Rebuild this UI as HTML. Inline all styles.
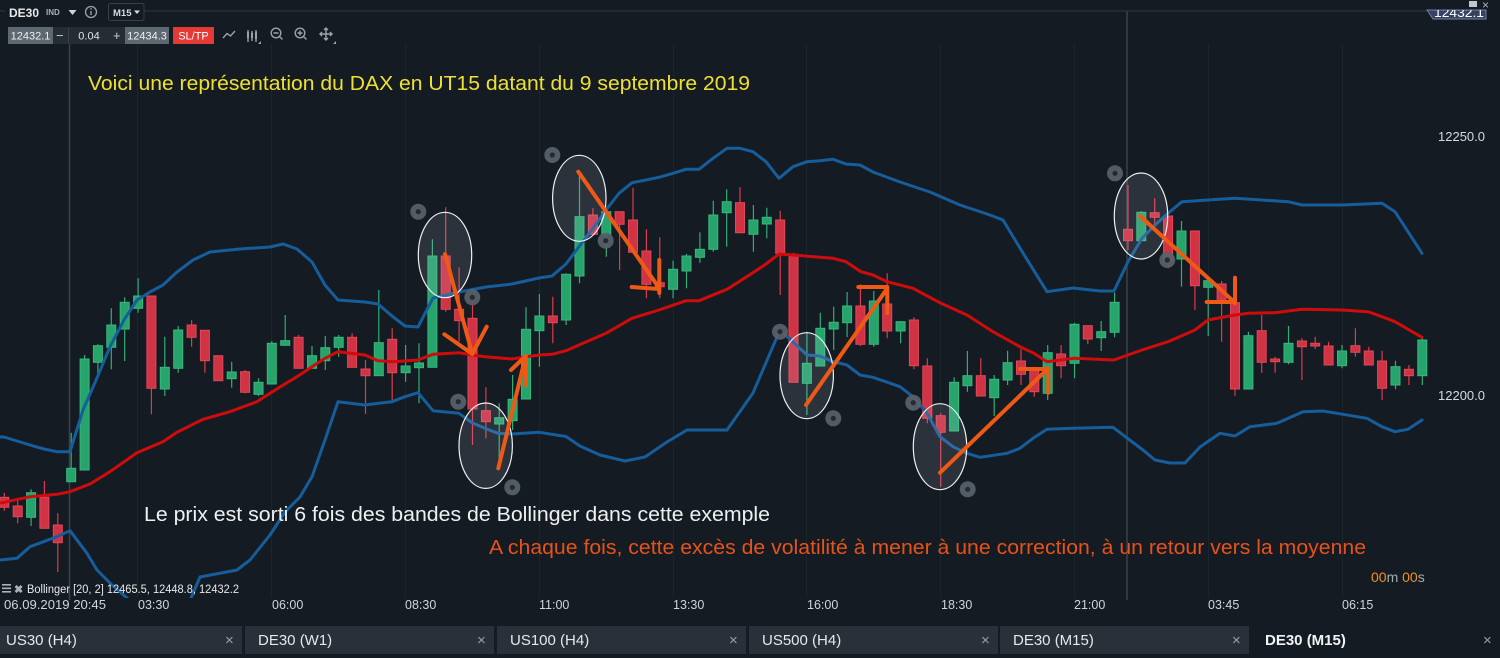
<!DOCTYPE html>
<html><head><meta charset="utf-8"><style>
html,body{margin:0;padding:0;background:#151b22;}
svg{display:block}
</style></head><body>
<svg width="1500" height="658" viewBox="0 0 1500 658" xmlns="http://www.w3.org/2000/svg" font-family="'Liberation Sans', Arial, sans-serif">
<defs>
<clipPath id="plot"><rect x="0" y="12" width="1435" height="586"/></clipPath>
<clipPath id="tagclip"><rect x="1420" y="10" width="70" height="12"/></clipPath>
</defs>
<rect width="1500" height="658" fill="#151b22"/>

<!-- faint grid -->
<g stroke="#1a252c" stroke-width="1">
<line x1="137.5" y1="44" x2="137.5" y2="598"/>
<line x1="271.5" y1="44" x2="271.5" y2="598"/>
<line x1="405.5" y1="44" x2="405.5" y2="598"/>
<line x1="539.5" y1="44" x2="539.5" y2="598"/>
<line x1="673.5" y1="44" x2="673.5" y2="598"/>
<line x1="806.5" y1="44" x2="806.5" y2="598"/>
<line x1="940.5" y1="44" x2="940.5" y2="598"/>
<line x1="1074.5" y1="44" x2="1074.5" y2="598"/>
<line x1="1208.5" y1="44" x2="1208.5" y2="598"/>
<line x1="1342.5" y1="44" x2="1342.5" y2="598"/>
</g>
<!-- session lines -->
<line x1="69.5" y1="43" x2="69.5" y2="600" stroke="#3a4149" stroke-width="1.5"/>
<line x1="1127" y1="11" x2="1127" y2="600" stroke="#3a4149" stroke-width="1.5"/>
<!-- header line -->
<line x1="0" y1="11" x2="1428" y2="11" stroke="#2c343d" stroke-width="1.2"/>

<g clip-path="url(#plot)">
<!-- green wicks -->
<path fill="none" stroke="#2fae76" stroke-width="1.2" d="M31.1 489.3V526M71.2 432.7V481.7M84.6 355V470M97.9 344.3V374.3M111.3 308.3V369.3M124.7 297.3V361M138.1 278.3V312.7M164.8 336.7V396M178.2 326V372.7M231.7 361.7V387.7M258.5 378.3V396M271.8 341V384M285.2 315V345.3M312 346V368.3M325.3 336V370M338.7 335V356.7M378.8 290V375.7M405.6 345V381.7M419 343.3V403.3M432.4 239.3V367.3M499.2 403.3V460M512.6 375V430M526 307.3V399M539.4 294V366.7M566.1 273.3V325M579.5 171.7V283.3M606.3 210V256.7M673.1 260.7V298.3M686.5 254V288.3M699.9 232.3V262.7M713.3 200.7V251.7M726.7 189.3V246.7M753.4 205V251.7M766.8 207.7V238.3M806.9 331.7V415M820.3 312.7V366M833.7 306.7V350M847.1 292V337M873.8 291V346.7M900.6 321.7V343.3M954.1 377.3V431M967.4 351V391.7M994.2 375V416M1007.6 350.7V385M1047.7 345V400M1074.5 322.7V378.3M1101.2 321V351M1114.6 292.7V337.3M1141.3 211V240.7M1181.5 221V286.7M1208.2 280.7V336M1248.4 331.7V389M1288.5 326V364.3M1342 345V368.3M1395.5 360.7V389.3M1422.3 338.3V385"/>
<!-- red wicks -->
<path fill="none" stroke="#dc3a4c" stroke-width="1.2" d="M4.3 492.7V510.7M17.7 499.3V523.3M44.4 481V528.3M57.8 513.3V572M151.4 296V414.3M191.6 320.3V346.7M204.9 330.3V372.7M218.3 355.7V380.7M245.1 370V393.3M298.6 335V368.3M352.1 333.3V367.3M365.5 360V414M392.2 328.3V401.7M445.7 207.3V311.7M459.1 267.3V341.7M472.5 296.7V445M485.9 387.3V438.3M552.8 296.7V343.3M592.9 208.3V234.3M619.6 211.7V270M633 187.7V252.3M646.4 229.3V298.3M659.8 237.3V298.3M740 187.3V233.3M780.2 210.7V295M793.5 252.7V382.3M860.4 284.3V346M887.2 273.3V338.3M913.9 317.3V369.3M927.3 358.3V423.3M940.7 413.3V486.7M980.8 358.3V396M1021 349.3V385M1034.3 366.7V396.7M1061.1 345V378.3M1087.8 325.7V344.3M1128 185V250M1154.7 198.3V224M1168.1 216V268.3M1194.9 231V310M1221.6 281V341.7M1235 302.7V395.7M1261.7 315V372.7M1275.1 356.7V372.7M1301.9 338.3V380M1315.2 336.7V349M1328.6 341.7V365M1355.4 328.3V356.7M1368.8 346.7V365M1382.1 350.7V400M1408.9 365V385"/>
<!-- green bodies -->
<g fill="#27a46c" stroke="#36b97e" stroke-width="1">
<rect x="26.6" y="492.7" width="9" height="24.6"/><rect x="66.7" y="468.3" width="9" height="13.4"/><rect x="80.1" y="359" width="9" height="111"/><rect x="93.4" y="345.7" width="9" height="16.6"/><rect x="106.8" y="325" width="9" height="22.3"/><rect x="120.2" y="302.3" width="9" height="26.7"/><rect x="133.6" y="296" width="9" height="12.3"/><rect x="160.3" y="367.3" width="9" height="21.7"/><rect x="173.7" y="330" width="9" height="38.3"/><rect x="227.2" y="372" width="9" height="6.7"/><rect x="254" y="382.3" width="9" height="12"/><rect x="267.3" y="343.3" width="9" height="40.7"/><rect x="280.7" y="340.7" width="9" height="4.6"/><rect x="307.5" y="355.7" width="9" height="12.6"/><rect x="320.8" y="347.7" width="9" height="13"/><rect x="334.2" y="337.3" width="9" height="10"/><rect x="374.3" y="342.7" width="9" height="33"/><rect x="401.1" y="366" width="9" height="6.7"/><rect x="414.5" y="363" width="9" height="4.7"/><rect x="427.9" y="256" width="9" height="111.3"/><rect x="494.7" y="417.7" width="9" height="6.3"/><rect x="508.1" y="399.3" width="9" height="21.4"/><rect x="521.5" y="329.3" width="9" height="69.7"/><rect x="534.9" y="316" width="9" height="14.7"/><rect x="561.6" y="274.3" width="9" height="45.7"/><rect x="575" y="216.7" width="9" height="59.3"/><rect x="601.8" y="211.7" width="9" height="22.6"/><rect x="668.6" y="269.3" width="9" height="20"/><rect x="682" y="256" width="9" height="15"/><rect x="695.4" y="249.3" width="9" height="8"/><rect x="708.8" y="215" width="9" height="34.3"/><rect x="722.2" y="201.7" width="9" height="11"/><rect x="748.9" y="220" width="9" height="14.3"/><rect x="762.3" y="217.3" width="9" height="6.7"/><rect x="802.4" y="363.3" width="9" height="20"/><rect x="815.8" y="328.3" width="9" height="37.7"/><rect x="829.2" y="322.3" width="9" height="6.7"/><rect x="842.6" y="306" width="9" height="16.7"/><rect x="869.3" y="301" width="9" height="43.3"/><rect x="896.1" y="321.7" width="9" height="9.3"/><rect x="949.6" y="382.3" width="9" height="48.7"/><rect x="962.9" y="375.7" width="9" height="10"/><rect x="989.7" y="379.3" width="9" height="18.4"/><rect x="1003.1" y="362.7" width="9" height="17.3"/><rect x="1043.2" y="352.7" width="9" height="40.6"/><rect x="1070" y="324.3" width="9" height="39"/><rect x="1096.7" y="331.7" width="9" height="6"/><rect x="1110.1" y="302.3" width="9" height="30"/><rect x="1136.8" y="212.3" width="9" height="28.4"/><rect x="1177" y="231" width="9" height="28"/><rect x="1203.7" y="280.7" width="9" height="6.6"/><rect x="1243.9" y="335.7" width="9" height="53.3"/><rect x="1284" y="343.3" width="9" height="19"/><rect x="1337.5" y="351" width="9" height="14.7"/><rect x="1391" y="366.7" width="9" height="18.3"/><rect x="1417.8" y="340" width="9" height="35.7"/>
</g>
<!-- red bodies -->
<g fill="#cf3344" stroke="#e2485a" stroke-width="1">
<rect x="-0.2" y="497.3" width="9" height="10"/><rect x="13.2" y="506" width="9" height="10.7"/><rect x="39.9" y="497.3" width="9" height="31"/><rect x="53.3" y="525" width="9" height="17.7"/><rect x="146.9" y="296" width="9" height="92.3"/><rect x="187.1" y="325" width="9" height="12.3"/><rect x="200.4" y="330.3" width="9" height="30.4"/><rect x="213.8" y="355.7" width="9" height="25"/><rect x="240.6" y="371.7" width="9" height="20.6"/><rect x="294.1" y="337.3" width="9" height="31"/><rect x="347.6" y="337.3" width="9" height="30"/><rect x="361" y="369" width="9" height="6.7"/><rect x="387.7" y="339.3" width="9" height="33.4"/><rect x="441.2" y="256" width="9" height="53.3"/><rect x="454.6" y="309.3" width="9" height="11.4"/><rect x="468" y="318.3" width="9" height="90.7"/><rect x="481.4" y="410.7" width="9" height="11"/><rect x="548.3" y="316" width="9" height="6.7"/><rect x="588.4" y="215" width="9" height="19.3"/><rect x="615.1" y="211.7" width="9" height="12.6"/><rect x="628.5" y="220" width="9" height="32.3"/><rect x="641.9" y="251" width="9" height="33.3"/><rect x="655.3" y="282.7" width="9" height="4"/><rect x="735.5" y="202.7" width="9" height="30"/><rect x="775.7" y="220" width="9" height="33.3"/><rect x="789" y="254.3" width="9" height="128"/><rect x="855.9" y="306" width="9" height="38.3"/><rect x="882.7" y="304" width="9" height="27"/><rect x="909.4" y="320" width="9" height="45.7"/><rect x="922.8" y="366" width="9" height="52.3"/><rect x="936.2" y="415.7" width="9" height="16.6"/><rect x="976.3" y="375.7" width="9" height="20.3"/><rect x="1016.5" y="361" width="9" height="13.3"/><rect x="1029.8" y="370.7" width="9" height="21"/><rect x="1056.6" y="354" width="9" height="11.7"/><rect x="1083.3" y="325.7" width="9" height="13.3"/><rect x="1123.5" y="229.3" width="9" height="11.4"/><rect x="1150.2" y="212.7" width="9" height="4.6"/><rect x="1163.6" y="216" width="9" height="45"/><rect x="1190.4" y="231" width="9" height="54.7"/><rect x="1217.1" y="284" width="9" height="15.3"/><rect x="1230.5" y="302.7" width="9" height="86.3"/><rect x="1257.2" y="330.7" width="9" height="31.6"/><rect x="1270.6" y="359" width="9" height="2.7"/><rect x="1297.4" y="341" width="9" height="5.7"/><rect x="1310.7" y="343.3" width="9" height="2.7"/><rect x="1324.1" y="346" width="9" height="19"/><rect x="1350.9" y="345.7" width="9" height="6.6"/><rect x="1364.3" y="351" width="9" height="14"/><rect x="1377.6" y="361" width="9" height="27.3"/><rect x="1404.4" y="369.3" width="9" height="6.4"/>
</g>

<!-- Bollinger bands -->
<g fill="none" stroke-width="3" stroke-linejoin="round" stroke-linecap="round">
<polyline stroke="#165d9c" points="0,437 4,437 17,441 30,445 44,449 57,451.7 70,451.7 83,410 97,378 110,346.7 124,320 137,300 150,292 163,285 177,272 193,260 210,252 240,249 270,247 283,244 297,249 312,262 325,285 338,300 365,302 378,304 392,316 405,326 418,327 433,298 459,292 486,287 512,284 539,278 552,276 566,264 579,246.7 593,228.3 606,210 619,193.3 632,182.7 646,180 659,177.3 673,173.3 686,169.3 699,169.3 713,158.3 727,148.3 740,148.3 753,151.7 766,161.7 779,178.3 793,166.7 807,161.7 820,160.7 833,159.3 846,164 860,165 873,172 900,182 930,192 960,205 990,215 1003,220 1023,253 1047,291.7 1073,288 1100,291 1114,291 1128,261.7 1142,238.3 1155,225 1168,213.3 1182,201.7 1208,200 1235,198.3 1262,200 1288,201.7 1302,205 1342,205 1382,203.3 1395,211.7 1408,231.7 1422,253.3"/>
<polyline stroke="#165d9c" points="0,560 17,558.3 30,546.7 57,536.7 70,530.7 87,553.3 97,570 112,585 127,598 140,612 185,612 200,577 237,570 250,560 270,535 285,512 300,497 312,476.7 325,440 338,401.7 365,405 392,401.7 405,396.7 418,392.7 433,410.7 459,413.3 472,422.7 485,428.3 498,433.3 512,434 539,432.3 566,436.5 580,446 600,455 625,461 645,457 667,442 687,430 727,430 753,393 780,330 807,355 820,356 833,361.7 847,365 860,375 873,377.3 900,386.7 913,396.7 927,413.3 940,436.7 953,446.7 967,453.3 980,457.3 1007,453.3 1020,448.3 1033,438.3 1047,429.3 1073,428.3 1113,427.3 1127,438 1143,450 1155,460 1170,463 1185,463 1200,447 1220,433.3 1235,436 1250,426.7 1277,423.3 1303,411.7 1323,411 1343,414.3 1367,418.3 1382,426.7 1395,431.7 1408,429.3 1422,420"/>
<polyline stroke="#cf0c0c" points="0,503 4,502.3 30,496.7 57,494.3 70,491.7 90,484 110,471.7 137,452.7 163,441.7 177,432.3 203,419.3 230,411.7 257,401.7 270,393.3 280,387 297,376.7 312,366.7 325,358.3 338,351.7 365,355 378,360.7 392,361.7 418,360 433,354.3 459,352.7 472,355 485,356.7 512,359 526,356.7 540,355 552,354.3 566,350.7 579,345 606,333.3 632,318.3 659,310 686,300.7 699,300.7 727,289.3 740,281 753,272.7 766,264 779,254 793,255 820,257.3 833,258.3 846,261.7 861,271.7 873,275 887,281.7 913,288.3 941,303.3 967,315 993,331.7 1020,346.7 1034,353.3 1047,361.7 1074,358.3 1114,360 1142,350 1168,341.7 1195,330 1208,320 1235,315 1248,313.3 1275,312.7 1302,309.3 1342,310 1368,311.7 1382,316.7 1395,321.7 1422,337.3"/>
</g>
</g>

<!-- ellipses -->
<g fill="rgba(200,212,230,0.13)" stroke="#eef0f2" stroke-width="1.2">
<ellipse cx="445" cy="255" rx="26.7" ry="42.7"/>
<ellipse cx="485.7" cy="445.7" rx="26.7" ry="42.7"/>
<ellipse cx="579.3" cy="198.3" rx="26.7" ry="43"/>
<ellipse cx="806.7" cy="375.7" rx="26.7" ry="43"/>
<ellipse cx="940" cy="446.7" rx="26.7" ry="43"/>
<ellipse cx="1141" cy="216" rx="26.7" ry="43"/>
</g>

<!-- circle markers -->
<g>
<g fill="#59616a" fill-opacity="0.92">
<circle cx="418.3" cy="211.7" r="8"/><circle cx="472.3" cy="297.3" r="8"/><circle cx="458.3" cy="401.7" r="8"/><circle cx="512.3" cy="487.3" r="8"/><circle cx="552.3" cy="155" r="8"/><circle cx="605.7" cy="240.7" r="8"/><circle cx="780" cy="331.7" r="8"/><circle cx="833.3" cy="418.3" r="8"/><circle cx="913.3" cy="402.7" r="8"/><circle cx="967.7" cy="489.3" r="8"/><circle cx="1115" cy="173.3" r="8"/><circle cx="1167.3" cy="260" r="8"/>
</g>
<g fill="#232a31">
<circle cx="418.3" cy="211.7" r="2.6"/><circle cx="472.3" cy="297.3" r="2.6"/><circle cx="458.3" cy="401.7" r="2.6"/><circle cx="512.3" cy="487.3" r="2.6"/><circle cx="552.3" cy="155" r="2.6"/><circle cx="605.7" cy="240.7" r="2.6"/><circle cx="780" cy="331.7" r="2.6"/><circle cx="833.3" cy="418.3" r="2.6"/><circle cx="913.3" cy="402.7" r="2.6"/><circle cx="967.7" cy="489.3" r="2.6"/><circle cx="1115" cy="173.3" r="2.6"/><circle cx="1167.3" cy="260" r="2.6"/>
</g>
</g>

<!-- orange arrows -->
<g fill="none" stroke="#ee5a16" stroke-width="4" stroke-linecap="round" stroke-linejoin="round">
<path d="M445 254L472.3 354M444.3 334.3L472.3 354L486.7 326.7"/>
<path d="M498.3 468.3L525.7 356M511 370L525.7 356L525.7 385"/>
<path d="M578.3 171.7L659.3 288.3M631.7 287L659.3 289M659.3 260V293"/>
<path d="M806 405L887.3 288.3M858.3 287H887.3V313"/>
<path d="M940 472.7L1048.3 368.3M1020 369H1048.3M1048.3 368.3V392.7"/>
<path d="M1140 216L1235 302.7M1206.7 302H1235M1235 277.7V303.3"/>
</g>

<!-- annotation texts -->
<text x="88" y="90" font-size="20.5" fill="#eee033" textLength="662" lengthAdjust="spacingAndGlyphs">Voici une représentation du DAX en UT15 datant du 9 septembre 2019</text>
<text x="144" y="521" font-size="20" fill="#eef0f2" textLength="626" lengthAdjust="spacingAndGlyphs">Le prix est sorti 6 fois des bandes de Bollinger dans cette exemple</text>
<text x="489" y="554" font-size="20" fill="#e5531a" textLength="877" lengthAdjust="spacingAndGlyphs">A chaque fois, cette excès de volatilité à mener à une correction, à un retour vers la moyenne</text>

<!-- y axis labels -->
<text x="1438" y="141" font-size="12.5" fill="#d5dae0" textLength="47" lengthAdjust="spacingAndGlyphs">12250.0</text>
<text x="1438" y="400" font-size="12.5" fill="#d5dae0" textLength="47" lengthAdjust="spacingAndGlyphs">12200.0</text>

<!-- countdown -->
<text x="1371" y="582" font-size="14" fill="#a3abb3"><tspan fill="#f0921c">00</tspan>m <tspan fill="#f0921c">00</tspan>s</text>

<!-- Bollinger legend -->
<g fill="#aab2ba">
<rect x="2" y="584" width="9" height="1.6"/><rect x="2" y="587.5" width="9" height="1.6"/><rect x="2" y="591" width="9" height="1.6"/>
</g>
<text x="14" y="593" font-size="11" font-weight="bold" fill="#aab2ba">✖</text>
<text x="27" y="593" font-size="11.5" fill="#e6e8ea" textLength="212" lengthAdjust="spacingAndGlyphs">Bollinger [20, 2] 12465.5, 12448.8, 12432.2</text>

<!-- time labels -->
<g font-size="12.5" fill="#d0d5da">
<text x="4" y="609" textLength="102" lengthAdjust="spacingAndGlyphs">06.09.2019 20:45</text>
<text x="138" y="609">03:30</text>
<text x="272" y="609">06:00</text>
<text x="405" y="609">08:30</text>
<text x="539" y="609">11:00</text>
<text x="673" y="609">13:30</text>
<text x="807" y="609">16:00</text>
<text x="941" y="609">18:30</text>
<text x="1074" y="609">21:00</text>
<text x="1208" y="609">03:45</text>
<text x="1342" y="609">06:15</text>
</g>

<!-- bottom tabs -->
<g fill="#2a3039">
<rect x="-7" y="626" width="249" height="28"/>
<rect x="245" y="626" width="249" height="28"/>
<rect x="497" y="626" width="249" height="28"/>
<rect x="749" y="626" width="249" height="28"/>
<rect x="1000" y="626" width="249" height="28"/>
</g>
<g font-size="15" fill="#e6e8eb">
<text x="6" y="645">US30 (H4)</text>
<text x="258" y="645">DE30 (W1)</text>
<text x="510" y="645">US100 (H4)</text>
<text x="762" y="645">US500 (H4)</text>
<text x="1013" y="645">DE30 (M15)</text>
<text x="1265" y="645" font-weight="bold" fill="#f2f3f5">DE30 (M15)</text>
</g>
<g font-size="15" fill="#9aa1a8">
<text x="225" y="645">×</text>
<text x="477" y="645">×</text>
<text x="729" y="645">×</text>
<text x="981" y="645">×</text>
<text x="1232" y="645">×</text>
<text x="1483" y="645">×</text>
</g>

<!-- header -->
<rect x="5" y="1" width="103" height="20" fill="#151b22"/>
<text x="9" y="17" font-size="12" font-weight="bold" fill="#e8eaec">DE30</text>
<text x="46" y="15" font-size="8" font-weight="bold" fill="#aab2ba">IND</text>
<polygon points="68.5,10 76.5,10 72.5,15" fill="#d0d4d8"/>
<circle cx="91" cy="12" r="5.5" fill="none" stroke="#9aa2aa" stroke-width="1.3"/>
<rect x="90.3" y="11" width="1.4" height="4" fill="#9aa2aa"/><rect x="90.3" y="8.2" width="1.4" height="1.5" fill="#9aa2aa"/>
<rect x="108.5" y="3.5" width="35.5" height="17" rx="2" fill="#151b22" stroke="#363e47"/>
<text x="113" y="16" font-size="9.5" font-weight="bold" fill="#d8dcdf">M15</text>
<polygon points="134,10.5 140,10.5 137,14" fill="#d8dcdf"/>

<rect x="8" y="27" width="45" height="17" fill="#5d6871"/>
<text x="30.5" y="39.5" font-size="11" fill="#eef0f2" text-anchor="middle">12432.1</text>
<rect x="53" y="27" width="72" height="17" fill="#252c34"/>
<text x="56" y="40" font-size="13" fill="#c8ccd0">−</text>
<line x1="68.5" y1="28" x2="68.5" y2="43" stroke="#3a424b"/>
<text x="89" y="39.5" font-size="11" fill="#e0e3e6" text-anchor="middle">0.04</text>
<text x="113" y="40" font-size="13" fill="#c8ccd0">+</text>
<rect x="125" y="27" width="44" height="17" fill="#5d6871"/>
<text x="147" y="39.5" font-size="11" fill="#eef0f2" text-anchor="middle">12434.3</text>
<rect x="173" y="27" width="41" height="17" fill="#e53935"/>
<text x="193.5" y="39.5" font-size="11" fill="#ffffff" text-anchor="middle">SL/TP</text>

<g fill="none" stroke="#9aa3ab" stroke-width="1.4">
<polyline points="223,38 227,33.5 230.5,36 235,31"/>
<path d="M248 30V42M252 31V41M256 30V42"/>
<circle cx="276" cy="33" r="4.8"/><path d="M279.5 36.5L282.5 39.5M273.5 33H278.5"/>
<circle cx="300" cy="33" r="4.8"/><path d="M303.5 36.5L306.5 39.5M297.5 33H302.5M300 30.5V35.5"/>
<path d="M326 28V40M320 34H332M324 30L326 28L328 30M324 38L326 40L328 38M322 32L320 34L322 36M330 32L332 34L330 36"/>
</g>
<g fill="#9aa3ab"><rect x="247" y="32" width="2" height="6"/><rect x="251" y="33" width="2" height="5"/><rect x="255" y="32" width="2" height="7"/>
<polygon points="258,44 261,44 261,41"/><polygon points="333,44 336,44 336,41"/></g>

<!-- top-right price tag -->
<polygon points="1427,10 1486,10 1486,19 1433,19" fill="#36425f" stroke="#6f7fa6" stroke-width="1"/>
<text x="1434" y="17" font-size="13" fill="#ffffff" clip-path="url(#tagclip)" textLength="50" lengthAdjust="spacingAndGlyphs">12432.1</text>
<rect x="1469" y="1" width="8" height="6" fill="#c0c6cc"/>
<text x="1482" y="9" font-size="12" fill="#b0b6bc">×</text>
</svg>
</body></html>
